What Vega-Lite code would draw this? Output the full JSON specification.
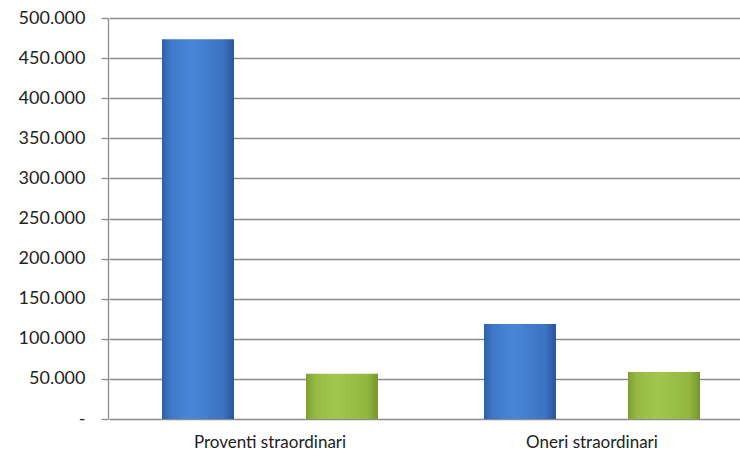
{
  "$schema": "https://vega.github.io/schema/vega-lite/v6.json",
  "autosize": {"type": "none"},
  "padding": {"left": 108, "top": 18, "right": 0, "bottom": 39},
  "width": 632,
  "height": 401,
  "background": "white",
  "config": {
    "locale": {"number": {"decimal": ",", "thousands": ".", "grouping": [3], "currency": ["€", ""]}},
    "view": {"stroke": null},
    "font": "Lato"
  },
  "data": {"values": [
    {"categoria": "Proventi straordinari", "serie": "A", "valore": 473500},
    {"categoria": "Proventi straordinari", "serie": "B", "valore": 56500},
    {"categoria": "Oneri straordinari", "serie": "A", "valore": 118500},
    {"categoria": "Oneri straordinari", "serie": "B", "valore": 58500}
  ]},
  "mark": {"type": "bar", "stroke": null},
  "encoding": {
    "x": {
      "field": "categoria", "type": "nominal", "sort": null,
      "scale": {"range": [1, 645], "paddingInner": 0, "paddingOuter": 0},
      "axis": {"title": null, "domain": false, "ticks": false, "labelAngle": 0, "labelFontSize": 17, "labelColor": "#222", "labelPadding": 15, "labelFont": "Lato"}
    },
    "xOffset": {"field": "serie", "type": "nominal", "scale": {"paddingInner": 0.5, "paddingOuter": 0.368}},
    "y": {
      "field": "valore", "type": "quantitative",
      "scale": {"domain": [0, 500000], "nice": false},
      "axis": {
        "title": null, "values": [0, 50000, 100000, 150000, 200000, 250000, 300000, 350000, 400000, 450000, 500000],
        "format": ",.0f",
        "labelExpr": "datum.value == 0 ? '-' : datum.label",
        "grid": true, "gridColor": "#8c8c8c", "gridWidth": 1.3, "gridOpacity": 1,
        "domainColor": "#8c8c8c", "domainWidth": 1.3,
        "tickColor": "#8c8c8c", "tickSize": 7, "tickWidth": 1.3,
        "labelFontSize": 18, "labelColor": "#222", "labelPadding": 16
      }
    },
    "color": {
      "condition": {
        "test": "datum.serie == 'A'",
        "value": {"gradient": "linear", "x1": 0, "x2": 1, "y1": 0, "y2": 0, "stops": [
          {"offset": 0, "color": "#2f5fa6"},
          {"offset": 0.12, "color": "#3f78c9"},
          {"offset": 0.4, "color": "#4a86d8"},
          {"offset": 0.85, "color": "#3c73c2"},
          {"offset": 1, "color": "#2a5598"}
        ]}
      },
      "value": {"gradient": "linear", "x1": 0, "x2": 1, "y1": 0, "y2": 0, "stops": [
        {"offset": 0, "color": "#7e9f32"},
        {"offset": 0.12, "color": "#95b944"},
        {"offset": 0.4, "color": "#a3c74c"},
        {"offset": 0.85, "color": "#93b640"},
        {"offset": 1, "color": "#76962c"}
      ]}
    }
  }
}
